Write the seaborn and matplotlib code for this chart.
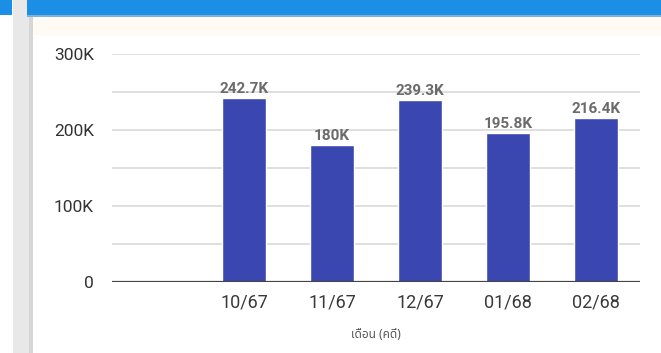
import matplotlib
matplotlib.use("Agg")
import matplotlib.pyplot as plt
from matplotlib.patches import Rectangle
import seaborn as sns
import pandas as pd
from matplotlib.ticker import FixedLocator

categories = ["", "10/67", "11/67", "12/67", "01/68", "02/68"]
values = [0, 242700, 180000, 239300, 195800, 216400]
labels = ["", "242.7K", "180K", "239.3K", "195.8K", "216.4K"]
ytick_values = [0, 100000, 200000, 300000]
ytick_labels = ["0", "100K", "200K", "300K"]
xlabel = "เดือน (คดี)"

sns.set_theme(style="white")
plt.rcParams['font.family'] = ['Roboto', 'DejaVu Sans']

df = pd.DataFrame({"month": categories, "count": values})

fig = plt.figure(figsize=(6.61, 3.53), dpi=100)
fig.patch.set_facecolor("white")
H = 353.0
W = 661.0
# decorations: header bar, left strip, cream band
fig.patches.append(Rectangle((13/W, 0), 20/W, 1, transform=fig.transFigure,
                             facecolor="#e8e8e8", edgecolor="none", zorder=0))
fig.patches.append(Rectangle((29/W, 0), 4/W, 1, transform=fig.transFigure,
                             facecolor="#d6d6d6", edgecolor="none", zorder=0))
fig.patches.append(Rectangle((0, 1 - 15/H), 12/W, 15/H, transform=fig.transFigure,
                             facecolor="#1b8fe6", edgecolor="none", zorder=0))
fig.patches.append(Rectangle((27/W, 1 - 15/H), 1, 15/H, transform=fig.transFigure,
                             facecolor="#1b8fe6", edgecolor="none", zorder=0))
fig.patches.append(Rectangle((27/W, 1 - 17/H), 1, 2/H, transform=fig.transFigure,
                             facecolor="#7fb2d9", edgecolor="none", zorder=0))
fig.patches.append(Rectangle((33/W, 1 - 35/H), 1, 18/H, transform=fig.transFigure,
                             facecolor="#fffaf3", edgecolor="none", zorder=0))

ax = fig.add_axes([112/W, 1 - 282/H, (640 - 112)/W, (282 - 54)/H])
ax.set_facecolor("none")
sns.barplot(data=df, x="month", y="count", color="#3b47b0", width=0.5, ax=ax,
            saturation=1, zorder=3)
ax.set_ylim(0, 300000)
ax.set_xlim(-0.5, len(categories) - 0.5)

for y in [50000, 100000, 150000, 200000, 250000, 300000]:
    ax.axhline(y, color="#d9d9d9", lw=1.2, zorder=1)
ax.axhline(0, color="#444444", lw=1.6, zorder=4)

ax.yaxis.set_major_locator(FixedLocator(ytick_values))
ax.set_yticklabels(ytick_labels)
ax.tick_params(axis="y", length=0, pad=13, labelsize=12.5, labelcolor="#333333")
ax.tick_params(axis="x", length=0, pad=8, labelsize=13, labelcolor="#3a3a3a")

for i, (v, lab) in enumerate(zip(values, labels)):
    if lab:
        ax.text(i, v + 2500, lab, ha="center", va="bottom", fontsize=11,
                color="#6b6b6b", fontweight="bold", zorder=5)

for s in ax.spines.values():
    s.set_visible(False)
ax.set_ylabel("")
ax.set_xlabel(xlabel, fontsize=8.5, style="italic", color="#555555", labelpad=12,
              family=['Noto Sans Thai', 'Loma', 'Garuda', 'Noto Sans', 'DejaVu Sans'])

fig.savefig("out.png", dpi=100)
